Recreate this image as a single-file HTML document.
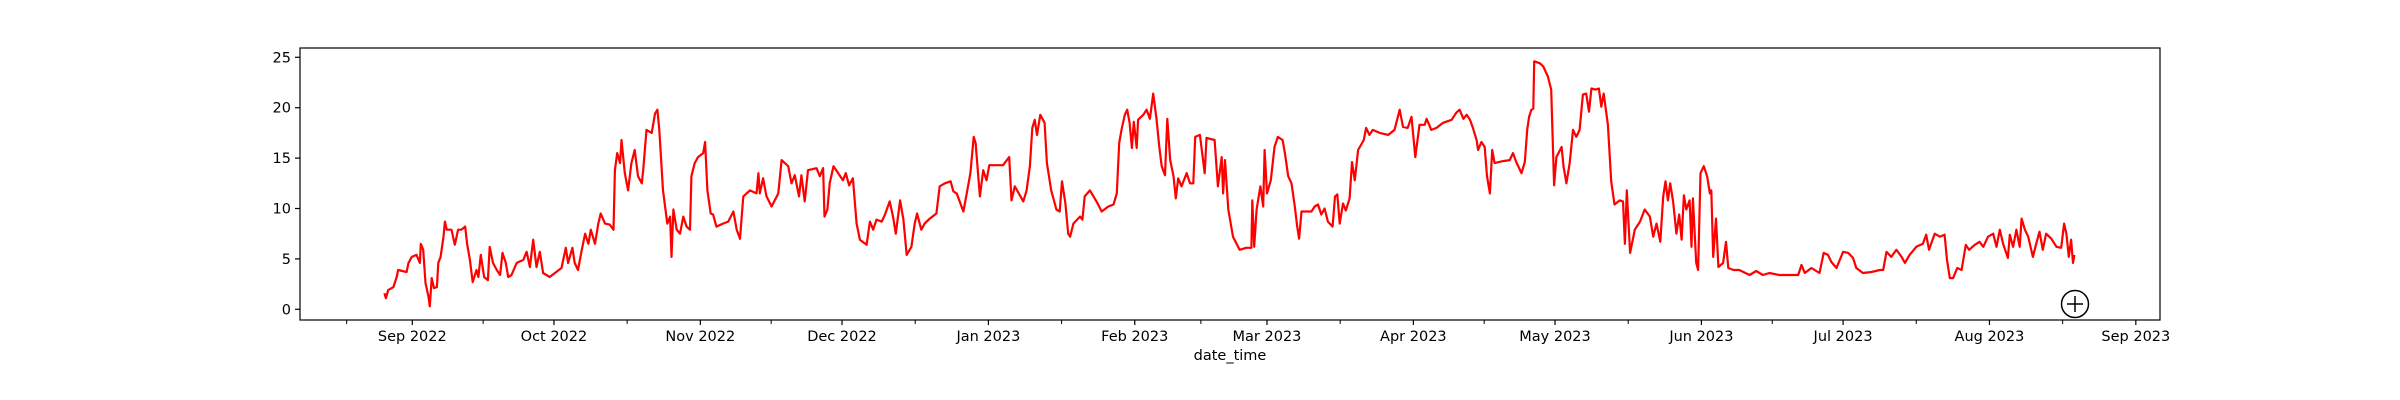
<!DOCTYPE html>
<html><head><meta charset="utf-8"><style>
html,body{margin:0;padding:0;background:#fff;}
svg{display:block;font-family:"DejaVu Sans","Liberation Sans",sans-serif;}
</style></head><body>
<svg id="chart" width="2400" height="400" viewBox="0 0 2400 400"></svg>
<script>
// days since 2022-09-01
const days = [-5.9,-5.6,-5.1,-4.0,-3.3,-3.0,-1.2,-0.8,-0.1,0.9,1.6,1.8,2.3,2.8,3.4,3.7,4.1,4.6,5.2,5.5,6.0,6.6,6.9,7.3,8.3,9.0,9.7,10.4,11.2,11.6,12.2,12.8,13.6,14.0,14.5,15.2,16.0,16.4,17.1,17.9,18.6,19.1,19.8,20.3,21.0,22.1,23.5,24.2,24.9,25.6,26.3,27.0,27.7,29.1,30.2,31.6,32.5,33.0,33.9,34.4,35.1,35.9,36.6,37.3,37.8,38.7,39.4,39.9,40.8,41.8,42.6,42.9,43.4,44.0,44.3,45.0,45.7,46.4,47.1,47.8,48.6,48.9,49.6,50.7,51.4,51.9,52.3,53.1,54.0,54.6,54.9,55.3,56.0,56.7,57.4,58.1,58.8,59.1,59.8,60.5,61.6,62.0,62.5,63.2,63.7,64.4,65.8,66.9,68.0,68.7,69.4,70.1,71.5,72.9,73.3,73.6,74.3,75.0,76.1,77.5,78.2,79.6,80.3,81.0,81.9,82.4,83.1,83.8,85.6,86.3,87.0,87.3,87.9,88.4,89.2,90.5,91.2,91.8,92.5,93.3,94.1,94.8,96.2,96.9,97.6,98.3,99.4,100.1,101.1,101.8,102.4,103.3,104.0,104.7,105.7,106.4,106.9,107.8,108.5,109.6,111.0,111.7,112.8,114.0,114.6,115.3,116.7,117.5,118.2,118.9,119.3,120.2,120.9,121.6,122.2,125.1,126.4,126.9,127.6,129.4,130.1,130.8,131.3,131.8,132.3,133.0,133.9,134.4,135.3,136.4,137.1,137.6,138.3,138.9,139.3,140.0,141.4,141.9,142.4,143.5,144.9,146.0,147.4,148.5,149.2,149.7,150.2,150.9,151.4,151.9,152.4,152.8,153.4,153.7,154.8,155.5,156.2,156.9,157.6,158.2,158.7,159.4,159.9,160.5,161.2,161.7,162.2,162.9,164.0,164.7,165.4,165.8,166.8,167.8,168.2,169.9,170.6,171.4,171.7,172.1,172.8,173.8,175.2,176.6,177.7,177.9,178.3,178.8,179.6,180.2,180.5,181.0,181.8,182.6,183.3,184.3,184.8,185.5,186.2,186.9,187.4,187.8,188.3,190.4,191.1,191.8,192.5,193.2,193.9,194.9,195.4,195.9,196.4,197.1,197.7,198.5,199.0,199.6,200.3,201.5,202.0,202.7,203.4,204.9,206.7,208.0,209.1,209.8,210.8,211.6,212.4,213.3,214.4,214.8,215.8,216.9,218.3,220.1,221.1,221.8,222.6,223.3,224.0,224.6,225.4,225.7,226.4,227.1,227.6,228.2,228.7,229.2,231.0,232.4,233.1,233.8,234.9,235.6,236.1,236.5,237.0,237.4,237.6,238.8,239.5,240.5,241.2,241.8,242.3,243.4,243.8,244.4,245.1,245.8,246.5,247.2,247.9,248.6,249.2,249.7,250.6,251.3,251.8,252.3,253.2,253.9,254.6,255.7,256.4,256.8,257.2,257.9,258.9,260.0,261.0,262.1,262.8,263.5,264.3,264.9,265.4,265.9,266.4,267.0,267.7,268.3,268.8,269.3,269.8,270.5,270.9,271.2,271.9,272.3,272.8,273.5,274.2,274.8,275.1,275.5,276.1,276.6,277.6,278.2,278.7,279.8,281.0,283.2,284.6,286.0,287.4,289.5,291.6,293.5,294.2,294.9,296.3,298.0,298.9,299.8,300.5,301.6,303.0,304.1,305.1,305.8,307.2,309.0,310.8,311.5,312.2,313.2,314.3,315.4,316.1,317.1,318.5,319.9,320.6,321.2,322.4,323.5,324.5,325.0,325.6,326.3,327.2,328.1,329.0,329.7,330.9,331.9,332.7,333.7,334.8,335.5,336.2,336.9,337.9,338.3,339.0,339.7,340.4,340.8,341.5,342.2,343.2,343.9,344.6,345.3,346.0,347.1,348.2,349.2,349.8,350.3,350.8,351.3,351.7,352.0];
const values = [1.6,1.1,1.9,2.2,3.2,3.9,3.7,4.6,5.2,5.4,4.6,6.5,5.9,2.6,1.3,0.3,3.1,2.1,2.2,4.6,5.2,7.2,8.7,7.9,7.9,6.4,7.9,7.9,8.2,6.5,4.9,2.7,3.9,3.2,5.4,3.2,2.9,6.2,4.6,3.9,3.4,5.6,4.6,3.2,3.4,4.6,4.9,5.7,4.2,6.9,4.2,5.7,3.6,3.2,3.6,4.1,6.1,4.6,6.1,4.6,3.9,5.9,7.5,6.5,7.9,6.5,8.5,9.5,8.5,8.4,7.9,13.8,15.5,14.5,16.8,13.5,11.8,14.5,15.8,13.2,12.5,13.8,17.8,17.5,19.4,19.8,17.8,11.8,8.5,9.2,5.2,9.9,7.9,7.5,9.2,8.2,7.9,13.2,14.5,15.1,15.5,16.6,11.8,9.5,9.4,8.2,8.5,8.7,9.7,7.9,7.0,11.2,11.8,11.5,13.5,11.5,13.0,11.2,10.2,11.5,14.8,14.2,12.5,13.3,11.2,13.3,10.7,13.8,14.0,13.2,14.0,9.2,9.9,12.5,14.2,13.3,12.8,13.5,12.3,13.0,8.5,6.9,6.4,8.7,7.9,8.9,8.7,9.4,10.7,9.2,7.5,10.8,8.9,5.4,6.2,8.5,9.5,7.9,8.5,9.0,9.5,12.2,12.5,12.7,11.7,11.5,9.7,11.7,13.5,17.1,16.5,11.2,13.8,12.8,14.3,14.3,15.1,10.8,12.2,10.7,11.8,14.2,18.0,18.8,17.3,19.3,18.5,14.5,11.8,9.9,9.7,12.7,10.5,7.5,7.2,8.5,9.2,8.9,11.2,11.8,10.7,9.7,10.2,10.4,11.5,16.5,17.8,19.3,19.8,18.5,16.0,18.6,16.0,18.8,19.3,19.8,18.9,21.4,18.9,16.1,14.2,13.3,18.9,14.8,13.2,11.0,13.0,12.2,13.5,12.5,12.5,17.1,17.3,13.5,17.0,16.8,12.2,15.1,11.5,14.8,9.9,7.2,5.9,6.1,6.1,10.8,6.2,9.9,12.2,10.2,15.8,11.5,12.8,16.1,17.1,16.8,15.5,13.2,12.5,10.2,8.2,7.0,9.7,9.7,10.2,10.4,9.4,10.0,8.7,8.2,11.2,11.4,8.5,10.5,9.8,11.0,14.6,12.8,15.8,16.8,18.0,17.3,17.8,17.5,17.3,17.8,19.8,18.1,18.0,19.1,15.1,18.3,18.3,18.9,17.8,18.0,18.5,18.8,19.5,19.8,18.9,19.3,18.8,18.0,16.8,15.8,16.6,16.1,13.2,11.5,15.8,14.5,14.7,14.8,15.5,14.6,13.5,14.6,17.8,19.1,19.8,19.9,24.6,24.4,24.1,23.1,21.8,12.3,15.1,16.1,14.2,12.5,14.5,17.8,17.1,17.8,21.3,21.4,19.6,21.9,21.8,21.9,20.1,21.4,18.3,12.7,10.4,10.8,10.7,6.5,11.8,5.6,7.9,8.7,9.9,9.2,7.2,8.5,6.7,11.2,12.7,10.8,12.5,10.7,7.5,9.4,6.9,11.3,9.9,10.8,6.2,11.0,4.6,3.9,13.5,14.2,13.2,11.5,11.8,5.2,9.0,4.2,4.6,6.7,4.1,3.9,3.9,3.4,3.8,3.4,3.6,3.4,3.4,3.4,4.4,3.6,4.1,3.6,5.6,5.4,4.7,4.1,5.7,5.6,5.1,4.1,3.6,3.7,3.9,3.9,5.7,5.2,5.9,5.2,4.6,5.4,6.2,6.5,7.4,5.9,7.5,7.2,7.4,4.9,3.1,3.1,4.1,3.9,6.4,5.9,6.4,6.7,6.2,7.2,7.5,6.2,7.9,6.5,5.1,7.4,6.2,7.9,6.2,9.0,7.9,7.2,5.2,6.5,7.7,5.9,7.5,7.0,6.2,6.1,8.5,7.5,5.2,6.9,4.6,5.4];
const yTicks = [0,5,10,15,20,25];
const monthLabels = ["Sep 2022","Oct 2022","Nov 2022","Dec 2022","Jan 2023","Feb 2023","Mar 2023","Apr 2023","May 2023","Jun 2023","Jul 2023","Aug 2023","Sep 2023"];
const monthStarts = [0,30,61,91,122,153,181,212,242,273,303,334,365];

const svg = document.getElementById('chart');
const NS = 'http://www.w3.org/2000/svg';
const L=300,R=2160,T=48,B=320;
const xScale = d => 412.3 + d*4.722;
const yScale = v => 309.3 - v*10.08;
function mk(tag, attrs, parent){const e=document.createElementNS(NS,tag);for(const k in attrs)e.setAttribute(k,attrs[k]);(parent||svg).appendChild(e);return e;}

// y ticks
yTicks.forEach(v=>{
  const y=yScale(v);
  const t=mk('line',{x1:L-5,x2:L,y1:y,y2:y,stroke:'#000','stroke-width':1.2});
  
  
  const lb=mk('text',{x:L-9,y:y+5,'text-anchor':'end','font-size':14.5,fill:'#000'});
  lb.textContent=String(v);
  
  
});
// x major ticks
monthStarts.forEach((d,i)=>{
  const x=xScale(d);
  const t=mk('line',{x1:x,x2:x,y1:B,y2:B+5,stroke:'#000','stroke-width':1.2});
  
  
  const lb=mk('text',{x:x,y:341,'text-anchor':'middle','font-size':14.5,fill:'#000'});
  lb.textContent=monthLabels[i];
  
  
});
// x minor ticks (mid-month)
const minor=[-13.9];
for(let i=0;i<monthStarts.length-1;i++) minor.push((monthStarts[i]+monthStarts[i+1])/2);
minor.forEach(d=>{
  const x=xScale(d);
  const t=mk('line',{x1:x,x2:x,y1:B,y2:B+4,stroke:'#000','stroke-width':1});
  
  
});
// series line
let dstr='';
days.forEach((d,i)=>{dstr+=(i?'L':'M')+xScale(d).toFixed(1)+' '+yScale(values[i]).toFixed(1);});
const path=mk('path',{d:dstr,fill:'none',stroke:'#ff0000','stroke-width':2.2,'stroke-linejoin':'round'});


// frame
const fr=mk('rect',{x:L,y:T,width:R-L,height:B-T,fill:'none',stroke:'#000','stroke-width':1.2});


// x axis title
const xt=mk('text',{x:(L+R)/2,y:360,'text-anchor':'middle','font-size':14.5,fill:'#000'});
xt.textContent='date_time';


// circled plus marker
const g=mk('g',{});


mk('circle',{cx:2075,cy:304,r:13.5,fill:'none',stroke:'#000','stroke-width':1.5},g);
mk('line',{x1:2067,x2:2083,y1:304,y2:304,stroke:'#000','stroke-width':1.5},g);
mk('line',{x1:2075,x2:2075,y1:296,y2:312,stroke:'#000','stroke-width':1.5},g);
</script>
</body></html>
